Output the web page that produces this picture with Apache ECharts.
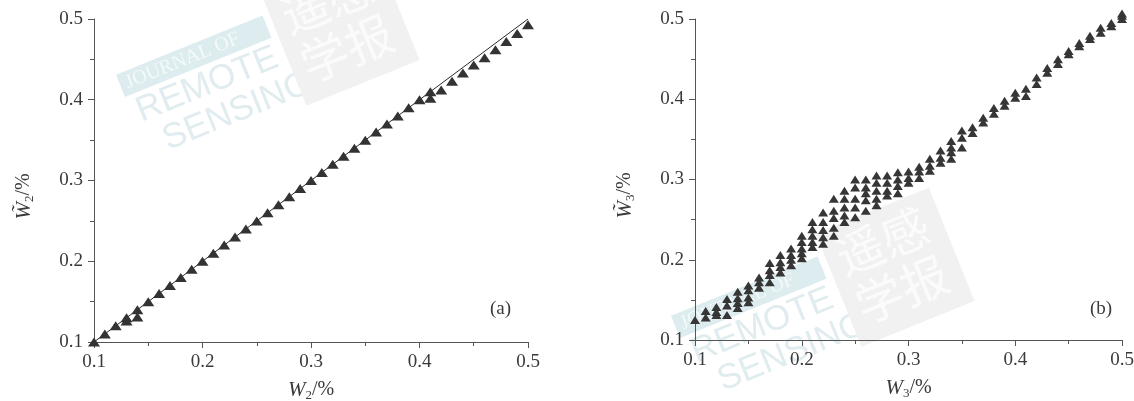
<!DOCTYPE html>
<html>
<head>
<meta charset="utf-8">
<script src="https://cdn.jsdelivr.net/npm/echarts@6/dist/echarts.min.js"></script>
<style>
  html, body { margin: 0; padding: 0; background: #fff; }
  #chart { width: 1134px; height: 401px; }
</style>
</head>
<body>
<div id="chart"></div>
<script>
// ---- data -------------------------------------------------------------
const ticks = [0.1, 0.2, 0.3, 0.4, 0.5];
const tickLabels = ['0.1', '0.2', '0.3', '0.4', '0.5'];

// (a) true W2 vs. estimated W2, plus the 1:1 reference line
const refLine = [0.1, 0.5];
const w2 = [0.10, 0.11, 0.12, 0.13, 0.13, 0.14, 0.14, 0.15, 0.16, 0.17, 0.18, 0.19,
            0.20, 0.21, 0.22, 0.23, 0.24, 0.25, 0.26, 0.27, 0.28, 0.29, 0.30, 0.31,
            0.32, 0.33, 0.34, 0.35, 0.36, 0.37, 0.38, 0.39, 0.40, 0.41, 0.41, 0.42,
            0.43, 0.44, 0.45, 0.46, 0.47, 0.48, 0.49, 0.50];
const w2Est = [0.100, 0.110, 0.120, 0.130, 0.126, 0.140, 0.131, 0.150, 0.160, 0.170, 0.180, 0.190,
               0.200, 0.210, 0.220, 0.230, 0.240, 0.250, 0.260, 0.270, 0.280, 0.290, 0.300, 0.310,
               0.320, 0.330, 0.340, 0.350, 0.360, 0.370, 0.380, 0.390, 0.400, 0.410, 0.402, 0.412,
               0.423, 0.433, 0.443, 0.452, 0.462, 0.472, 0.482, 0.493];

// (b) true W3 (one entry per column) and the estimated W3 values at each
const w3 = [0.10, 0.11, 0.12, 0.13, 0.14, 0.15, 0.16, 0.17, 0.18, 0.19, 0.20,
            0.21, 0.22, 0.23, 0.24, 0.25, 0.26, 0.27, 0.28, 0.29, 0.30,
            0.31, 0.32, 0.33, 0.34, 0.35, 0.36, 0.37, 0.38, 0.39, 0.40,
            0.41, 0.42, 0.43, 0.44, 0.45, 0.46, 0.47, 0.48, 0.49, 0.50];
const w3Est = [
  [0.125],
  [0.136, 0.128],
  [0.141, 0.135, 0.131],
  [0.151, 0.143, 0.131],
  [0.160, 0.152, 0.146, 0.140],
  [0.168, 0.162, 0.153, 0.147],
  [0.178, 0.172, 0.165],
  [0.196, 0.187, 0.181, 0.172],
  [0.206, 0.197, 0.191, 0.184],
  [0.214, 0.206, 0.200, 0.193],
  [0.230, 0.222, 0.214, 0.208, 0.202],
  [0.247, 0.238, 0.230, 0.222, 0.216],
  [0.259, 0.247, 0.237, 0.228, 0.220],
  [0.276, 0.261, 0.252, 0.240, 0.230],
  [0.286, 0.276, 0.265, 0.255, 0.247],
  [0.300, 0.290, 0.276, 0.265, 0.253],
  [0.300, 0.290, 0.283, 0.274, 0.261],
  [0.305, 0.296, 0.286, 0.276, 0.268],
  [0.305, 0.296, 0.286, 0.280],
  [0.309, 0.300, 0.292, 0.283],
  [0.310, 0.302, 0.296],
  [0.316, 0.310, 0.302],
  [0.326, 0.317, 0.311],
  [0.336, 0.327, 0.321],
  [0.348, 0.340, 0.334, 0.326],
  [0.361, 0.352, 0.340],
  [0.365, 0.358],
  [0.377, 0.371],
  [0.389, 0.382],
  [0.398, 0.392],
  [0.408, 0.402],
  [0.413, 0.404],
  [0.427, 0.419],
  [0.439, 0.433],
  [0.450, 0.444],
  [0.460, 0.456],
  [0.470, 0.466],
  [0.479, 0.475],
  [0.489, 0.483],
  [0.495, 0.491],
  [0.507, 0.504, 0.500]
];

// ---- styling helpers ----------------------------------------------------
const SERIF = "'Liberation Serif', 'Times New Roman', serif";
const AXIS_COLOR = '#555';
const TEXT_COLOR = '#3a3a3a';

const nameRich = {
  i: { fontFamily: SERIF, fontStyle: 'italic', fontSize: 21, color: TEXT_COLOR },
  s: { fontFamily: SERIF, fontSize: 13, color: TEXT_COLOR, padding: [11, 0, 0, 0] },
  n: { fontFamily: SERIF, fontSize: 20, color: TEXT_COLOR }
};

function tickText(v) {
  const k = ticks.findIndex(t => Math.abs(t - v) < 1e-9);
  return k >= 0 ? tickLabels[k] : '';
}

function valueAxis(gridIndex, name, nameGap, namePadding) {
  return {
    type: 'value',
    gridIndex,
    min: ticks[0],
    max: ticks[ticks.length - 1],
    interval: 0.1,
    name,
    nameLocation: 'middle',
    nameGap,
    nameTextStyle: { rich: nameRich, padding: namePadding },
    axisLine: { show: true, onZero: false, lineStyle: { color: AXIS_COLOR, width: 1 } },
    axisTick: { show: true, inside: false, length: 6, lineStyle: { color: AXIS_COLOR } },
    minorTick: { show: true, splitNumber: 2, length: 4, lineStyle: { color: AXIS_COLOR } },
    splitLine: { show: false },
    axisLabel: { color: TEXT_COLOR, fontFamily: SERIF, fontSize: 19, margin: 11, formatter: tickText }
  };
}

// scatter points for panel (b): one pair per estimate in each column
const w3Points = [];
w3.forEach((x, k) => w3Est[k].forEach(y => w3Points.push([x, y])));

// faint journal stamp drawn behind the plots
function stamp(x, y) {
  const c = '#e0ecef';
  const sans = "'Liberation Sans', sans-serif";
  return {
    type: 'group', x, y, rotation: 22 * Math.PI / 180, silent: true, z: -10,
    children: [
      { type: 'rect', shape: { x: 0, y: -24, width: 158, height: 24 }, style: { fill: '#dcecef' } },
      { type: 'text', x: 6, y: -22, style: { text: 'JOURNAL OF', fill: '#f4f9fa', font: "20px " + SERIF } },
      { type: 'text', x: 6, y: 2, style: { text: 'REMOTE', fill: c, font: "35px " + sans } },
      { type: 'text', x: 20, y: 38, style: { text: 'SENSING', fill: c, font: "35px " + sans } },
      { type: 'rect', shape: { x: 165, y: -46, width: 122, height: 122 }, style: { fill: '#f1f1f1' } },
      { type: 'text', x: 176, y: -38, style: { text: '遥感', fill: '#fbfbfb', font: "48px 'Noto Sans CJK SC'" } },
      { type: 'text', x: 176, y: 14, style: { text: '学报', fill: '#fbfbfb', font: "48px 'Noto Sans CJK SC'" } }
    ]
  };
}

const chart = echarts.init(document.getElementById('chart'), null, { renderer: 'canvas' });
chart.setOption({
  animation: false,
  backgroundColor: '#ffffff',
  grid: [
    { left: 94, right: 606, top: 19, bottom: 59, containLabel: false, outerBoundsMode: 'none' },
    { left: 695, right: 12, top: 19, bottom: 61, containLabel: false, outerBoundsMode: 'none' }
  ],
  xAxis: [
    valueAxis(0, '{i|W}{s|2}{n|/%}', 36, 0),
    valueAxis(1, '{i|W}{s|3}{n|/%}', 36, 0)
  ],
  yAxis: [
    valueAxis(0, '{i|W\u0303}{s|2}{n|/%}', 58, [0, 32, 0, 0]),
    valueAxis(1, '{i|W\u0303}{s|3}{n|/%}', 58, [0, 32, 0, 0])
  ],
  graphic: [
    stamp(125, 97),
    stamp(680, 338),
    { type: 'text', left: 490, top: 300, style: { text: '(a)', fill: TEXT_COLOR, font: "19px " + SERIF } },
    { type: 'text', left: 1090, top: 300, style: { text: '(b)', fill: TEXT_COLOR, font: "19px " + SERIF } }
  ],
  series: [
    {
      type: 'line', xAxisIndex: 0, yAxisIndex: 0, z: 2,
      data: refLine.map(v => [v, v]),
      showSymbol: false, symbol: 'none',
      lineStyle: { color: '#2a2a2a', width: 1 }
    },
    {
      type: 'scatter', xAxisIndex: 0, yAxisIndex: 0, z: 3, clip: false,
      data: w2.map((x, k) => [x, w2Est[k]]),
      symbol: 'triangle', symbolSize: [12, 9],
      itemStyle: { color: '#333333', opacity: 1 }
    },
    {
      type: 'scatter', xAxisIndex: 1, yAxisIndex: 1, z: 3, clip: false,
      data: w3Points,
      symbol: 'triangle', symbolSize: [10, 8],
      itemStyle: { color: '#363636', opacity: 1 }
    }
  ]
});
</script>
</body>
</html>
